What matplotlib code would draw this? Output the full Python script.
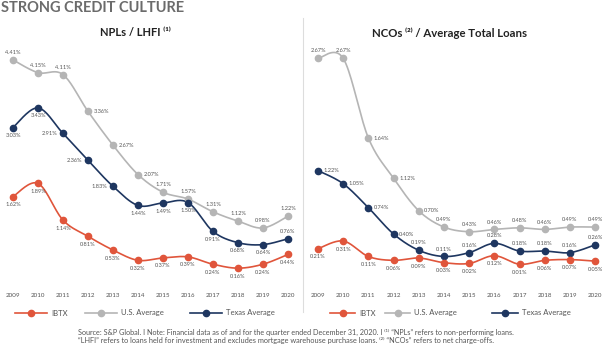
import numpy as np
import matplotlib.pyplot as plt
from matplotlib.lines import Line2D

years = list(range(2009, 2021))

npl_us = [4.41, 4.15, 4.11, 3.36, 2.67, 2.07, 1.71, 1.57, 1.31, 1.12, 0.98, 1.22]
npl_tx = [3.03, 3.43, 2.91, 2.36, 1.83, 1.44, 1.49, 1.50, 0.91, 0.68, 0.64, 0.76]
npl_ibtx = [1.62, 1.89, 1.14, 0.81, 0.53, 0.32, 0.37, 0.39, 0.24, 0.16, 0.24, 0.44]

nco_us = [2.67, 2.67, 1.64, 1.12, 0.70, 0.49, 0.43, 0.46, 0.48, 0.46, 0.49, 0.49]
nco_tx = [1.22, 1.05, 0.74, 0.40, 0.19, 0.11, 0.16, 0.28, 0.18, 0.18, 0.16, 0.26]
nco_ibtx = [0.21, 0.31, 0.11, 0.06, 0.09, 0.03, 0.02, 0.12, 0.01, 0.06, 0.07, 0.05]

# label placement per point: a=above, b=below, l=left, r=right
npl_us_pos = "aaarrraaaaaa"
npl_tx_pos = "bblllbbbbbba"
npl_ibtx_pos = "bbbbbbbbbbbb"
nco_us_pos = "aarrraaaaaaa"
nco_tx_pos = "rrrraaaaaaaa"
nco_ibtx_pos = "bbbbbbbbbbbb"

series_names = ["IBTX", "U.S. Average", "Texas Average"]

RED = "#e0553b"
GRAY = "#b5b5b5"
NAVY = "#1e3660"
TXT = "#555555"
FONT = ["Lato", "DejaVu Sans"]

plt.rcParams["font.family"] = FONT

W, H = 602, 344


def px_axes(fig, x0, y0, x1, y1):
    return fig.add_axes([x0 / W, 1 - y1 / H, (x1 - x0) / W, (y1 - y0) / H])


def smooth(x, y, n=20):
    # bezier smoothing similar to spreadsheet "smoothed line"
    P = np.column_stack([np.asarray(x, float), np.asarray(y, float)])
    Pe = np.vstack([P[0], P, P[-1]])
    out = []
    t = np.linspace(0, 1, n)[:, None]
    for i in range(len(P) - 1):
        p0 = Pe[i + 1]
        p3 = Pe[i + 2]
        c1 = p0 + (Pe[i + 2] - Pe[i]) / 6
        c2 = p3 - (Pe[i + 3] - Pe[i + 1]) / 6
        seg = ((1 - t) ** 3) * p0 + 3 * ((1 - t) ** 2) * t * c1 + 3 * (1 - t) * t ** 2 * c2 + t ** 3 * p3
        out.append(seg if i == 0 else seg[1:])
    s = np.vstack(out)
    return s[:, 0], s[:, 1]


def draw_series(ax, vals, color, pos):
    sx, sy = smooth(years, vals)
    ax.plot(sx, sy, color=color, lw=1.2, zorder=2)
    ax.plot(years, vals, "o", color=color, ms=4.5, zorder=3)
    offs = {"a": ((0, 3.5), "center", "bottom"), "b": ((0, -4), "center", "top"),
            "l": ((-4, 0), "right", "center"), "r": ((4, 0), "left", "center")}
    for yr, v, p in zip(years, vals, pos):
        off, ha, va = offs[p]
        ax.annotate(f"{v:.2f}%", (yr, v), xytext=off, textcoords="offset points",
                    ha=ha, va=va, fontsize=4.1, color=TXT)


def style(ax):
    for s in ax.spines.values():
        s.set_visible(False)
    ax.set_yticks([])
    ax.set_xticks(years)
    ax.set_xticklabels([str(y) for y in years], fontsize=4.5, color=TXT)
    ax.tick_params(axis="x", length=0, pad=6)
    ax.patch.set_alpha(0)


def legend_item(x0, x1, y, color, label):
    yf = 1 - y / H
    fig.add_artist(Line2D([x0 / W, x1 / W], [yf, yf], color=color, lw=1.2))
    fig.add_artist(Line2D([(x0 + x1) / 2 / W], [yf], color=color, marker="o", ms=4.5))
    fig.text((x1 + 4) / W, yf, label, fontsize=5.5, color=TXT, ha="left", va="center")


fig = plt.figure(figsize=(W / 100, H / 100), dpi=100)

# left panel: zero at y=276px, 49px per unit, 2009 at x=13, 25px per year
axl = px_axes(fig, 0, 40, 300, 285)
axl.set_xlim(2009 - 13 / 25, 2009 + 287 / 25)
axl.set_ylim((276 - 285) / 49, (276 - 40) / 49)
draw_series(axl, npl_us, GRAY, npl_us_pos)
draw_series(axl, npl_tx, NAVY, npl_tx_pos)
draw_series(axl, npl_ibtx, RED, npl_ibtx_pos)
style(axl)

# right panel: zero at y=265px, 77.4px per unit, 2009 at x=318, 25.2px per year
axr = px_axes(fig, 305, 40, 602, 285)
axr.set_xlim(2009 - 13 / 25.2, 2009 + 284 / 25.2)
axr.set_ylim((265 - 285) / 77.4, (265 - 40) / 77.4)
draw_series(axr, nco_us, GRAY, nco_us_pos)
draw_series(axr, nco_tx, NAVY, nco_tx_pos)
draw_series(axr, nco_ibtx, RED, nco_ibtx_pos)
style(axr)

# divider
fig.add_artist(Line2D([303 / W, 303 / W], [1 - 18 / H, 1 - 312 / H], color="#dddddd", lw=0.8))

fig.text(1 / W, 1 - 8 / H, "STRONG CREDIT CULTURE", fontsize=10.5, fontweight="bold",
         color="#6b6b6b", ha="left", va="center")
fig.text(135 / W, 1 - 33 / H, "NPLs / LHFI \u207d\u00b9\u207e", fontsize=8, fontweight="bold",
         color="#222222", ha="center", va="center")
fig.text(450 / W, 1 - 33 / H, "NCOs \u207d\u00b2\u207e / Average Total Loans", fontsize=8.2,
         fontweight="bold", color="#222222", ha="center", va="center")

colors = [RED, GRAY, NAVY]
left_leg = [(15, 47), (85, 117), (190, 222)]
right_leg = [(330, 355), (385, 410), (492, 518)]
for spans in (left_leg, right_leg):
    for (x0, x1), c, name in zip(spans, colors, series_names):
        legend_item(x0, x1, 313, c, name)

foot1 = ("Source: S&P Global. I Note: Financial data as of and for the quarter ended December 31, 2020. I "
         "\u207d\u00b9\u207e \u201cNPLs\u201d refers to non-performing loans.")
foot2 = ("\u201cLHFI\u201d refers to loans held for investment and excludes mortgage warehouse purchase loans. "
         "\u207d\u00b2\u207e \u201cNCOs\u201d refers to net charge-offs.")
fig.text(78 / W, 1 - 332 / H, foot1, fontsize=5.2, color=TXT, ha="left", va="center")
fig.text(78 / W, 1 - 341 / H, foot2, fontsize=5.3, color=TXT, ha="left", va="center")

fig.savefig("out.png", dpi=100)
